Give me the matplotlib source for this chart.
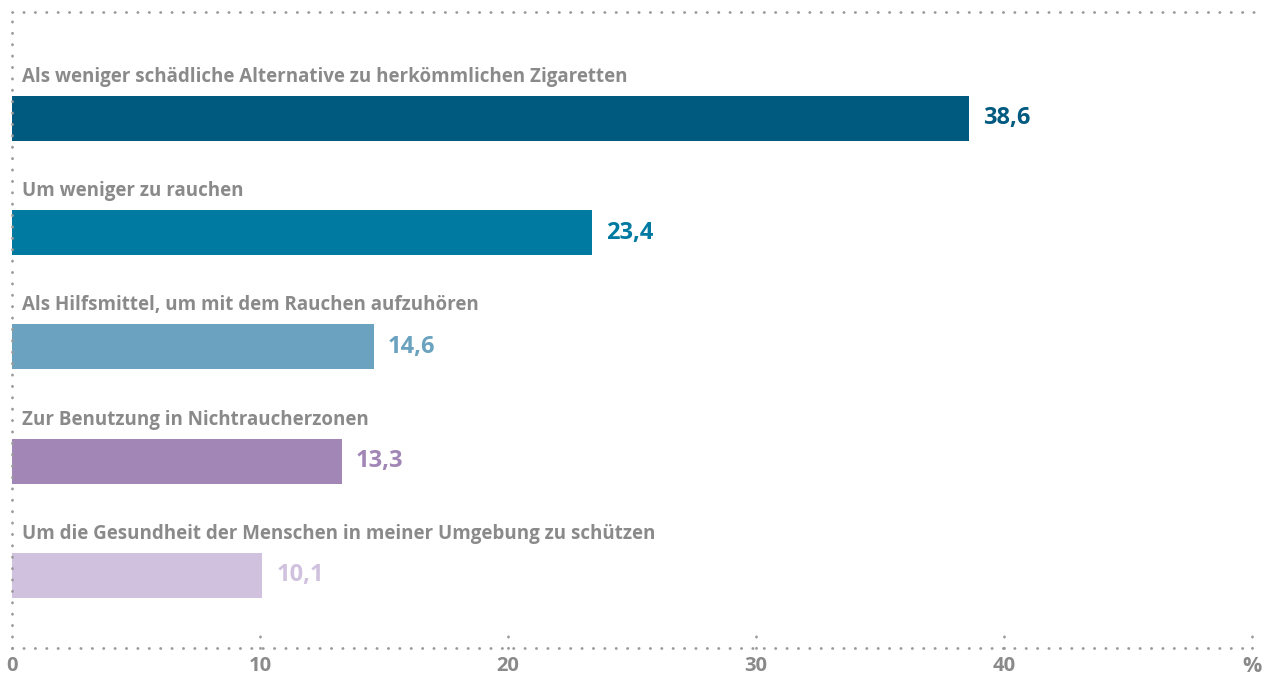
import numpy as np
import matplotlib
matplotlib.use("Agg")
import matplotlib.pyplot as plt

# data
categories = [
    "Als weniger schädliche Alternative zu herkömmlichen Zigaretten",
    "Um weniger zu rauchen",
    "Als Hilfsmittel, um mit dem Rauchen aufzuhören",
    "Zur Benutzung in Nichtraucherzonen",
    "Um die Gesundheit der Menschen in meiner Umgebung zu schützen",
]
values = [38.6, 23.4, 14.6, 13.3, 10.1]
value_labels = ["38,6", "23,4", "14,6", "13,3", "10,1"]
colors = ["#005a80", "#007aa0", "#6aa2bf", "#a186b6", "#d0c1de"]
tick_values = [0, 10, 20, 30, 40, 50]
tick_labels = ["0", "10", "20", "30", "40", "%"]

gray = "#8a8a8a"
dotcol = "#9a9a9a"
plt.rcParams['font.family'] = ['Open Sans', 'DejaVu Sans']

fig = plt.figure(figsize=(12.7, 6.8), dpi=100)
ax = fig.add_axes([12/1270, 32/680, 1240/1270, 636/680])

pos = np.arange(len(values))
ax.barh(pos, values, height=0.394, color=colors)

ax.set_xlim(0, 50)
ax.set_ylim(4.635, -0.932)

# category labels above the bars, values at the end
for i in range(len(values)):
    ax.text(0.4, pos[i] - 0.32, categories[i], ha='left', va='baseline',
            fontsize=13.5, fontweight='bold', color=gray)
    ax.annotate(value_labels[i], (values[i], pos[i]), xytext=(10, 0),
                textcoords='offset points', ha='left', va='center',
                fontsize=17, fontweight='bold', color=colors[i])

# dotted frame (top, left, bottom)
ls = (0, (0.1, 4.0))
for s in ax.spines.values():
    s.set_visible(False)
ax.plot([0, 1.002], [1, 1], transform=ax.transAxes, color=dotcol, lw=2,
        linestyle=ls, dash_capstyle='round', clip_on=False)
ax.plot([0, 0], [0, 1], transform=ax.transAxes, color=dotcol, lw=2,
        linestyle=ls, dash_capstyle='round', clip_on=False)
ax.plot([0, 1], [0, 0], transform=ax.transAxes, color=dotcol, lw=2,
        linestyle=ls, dash_capstyle='round', clip_on=False)
# little dotted ticks
for t in tick_values[1:]:
    ax.plot([t, t], [4.635, 4.635 - 0.15], color=dotcol, lw=2,
            linestyle=ls, dash_capstyle='round', clip_on=False)

ax.set_xticks(tick_values)
ax.set_xticklabels(tick_labels, fontweight='bold', fontsize=14.5, color=gray)
ax.tick_params(axis='x', length=0, pad=6)
ax.get_xticklabels()[-1].set_fontsize(15.5)
ax.get_xticklabels()[-1].set_verticalalignment('top')
ax.set_yticks([])

fig.savefig("out.png", dpi=100)
